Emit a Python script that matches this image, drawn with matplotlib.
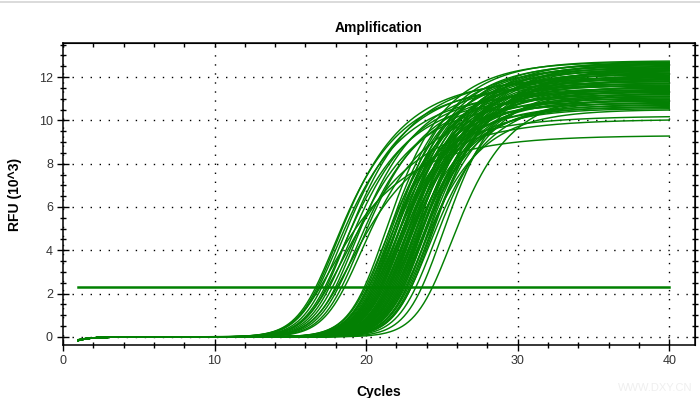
import numpy as np
import matplotlib
matplotlib.use('Agg')
import matplotlib.pyplot as plt
from matplotlib.lines import Line2D
from matplotlib.ticker import MultipleLocator

plt.rcParams['font.family'] = ['Liberation Sans', 'DejaVu Sans']

# data
threshold = 2.33  # RFU x10^3

# early wells: threshold-crossing cycle and plateau
early_ct = [16.7, 16.8, 16.9, 17.1, 17.3, 17.4, 17.6, 17.8, 18.0, 18.2, 18.4, 18.6]
early_plateau = [11.6, 11.9, 11.3, 11.7, 11.1, 12.0, 11.4, 10.9, 11.8, 11.2, 11.5, 10.8]
early_rate = 0.30

# early wells that flatten low
low_ct = [17.0, 17.5, 18.1]
low_plateau = [9.3, 10.2, 10.05]
low_rate = 0.25

# main bundle
main_ct = [19.9, 20.0, 20.1, 20.2, 20.2, 20.3, 20.4, 20.4, 20.5, 20.5,
           20.6, 20.6, 20.7, 20.7, 20.8, 20.8, 20.9, 20.9, 21.0, 21.0,
           21.0, 21.1, 21.1, 21.2, 21.2, 21.3, 21.3, 21.4, 21.4, 21.5,
           21.5, 21.5, 21.6, 21.6, 21.7, 21.7, 21.8, 21.8, 21.9, 21.9,
           22.0, 22.0, 22.1, 22.1, 22.2, 22.2, 22.3, 22.3, 22.4, 22.4,
           22.5, 22.5, 22.6, 22.7, 22.7, 22.8, 22.9, 23.0, 23.0, 23.3,
           23.7, 24.4]
main_plateau = [12.7, 11.2, 12.4, 10.8, 12.1, 11.6, 12.75, 11.0, 12.3, 11.9,
                10.6, 12.6, 11.4, 12.0, 10.9, 12.5, 11.7, 11.1, 12.2, 10.7,
                12.65, 11.5, 12.35, 11.3, 10.55, 12.15, 11.8, 12.55, 11.05, 12.45,
                10.95, 11.65, 12.25, 11.35, 12.7, 10.65, 11.95, 12.05, 11.45, 12.6,
                10.75, 11.85, 12.4, 11.15, 12.3, 11.55, 10.85, 12.5, 11.25, 12.0,
                11.75, 12.2, 10.5, 11.9, 12.65, 11.4, 12.1, 11.0, 12.35, 11.6,
                12.45, 11.3]
main_rate = 0.35

start_dip = -0.15  # value at cycle 1

cycles = np.arange(1, 40.001, 0.1)


def amp_curve(ct, plateau, rate, k=0.95):
    # exponential start, saturating top, placed so it crosses threshold at ct
    u_t = -np.log(1 - threshold / plateau) / rate
    x0 = ct - np.log(np.expm1(k * u_t)) / k
    u = np.logaddexp(0, k * (cycles - x0)) / k
    y = plateau * (1 - np.exp(-rate * u))
    y += start_dip * plateau / 11.5 * np.exp(-(cycles - 1) / 0.8)
    return y


fig = plt.figure(figsize=(7, 3.98), dpi=100)
ax = fig.add_axes([63 / 700, 1 - 345 / 398, 632 / 700, 302 / 398])

green = '#038003'
for ct, pl in zip(main_ct, main_plateau):
    ax.plot(cycles, amp_curve(ct, pl, main_rate), color=green, lw=1.05)
for ct, pl in zip(early_ct, early_plateau):
    ax.plot(cycles, amp_curve(ct, pl, early_rate), color=green, lw=1.05)
for ct, pl in zip(low_ct, low_plateau):
    ax.plot(cycles, amp_curve(ct, pl, low_rate), color=green, lw=1.05)

ax.plot([1, 40], [threshold, threshold], color='#008000', lw=1.8)

ax.set_xlim(0, 41.7)
ax.set_ylim(-0.37, 13.57)
ax.xaxis.set_major_locator(MultipleLocator(10))
ax.xaxis.set_minor_locator(MultipleLocator(2))
ax.yaxis.set_major_locator(MultipleLocator(2))
ax.yaxis.set_minor_locator(MultipleLocator(0.5))
ax.grid(True, which='major', color='black', ls=(0, (1, 5.5)), lw=1.0)
for s in ax.spines.values():
    s.set_linewidth(1.1)
ax.tick_params(which='major', direction='inout', length=8.5, width=1.0,
               labelsize=9, colors='black', labelcolor='#333333', pad=3)
ax.tick_params(which='minor', direction='inout', length=4.5, width=1.0)

sx = ax.secondary_xaxis('top')
sx.xaxis.set_major_locator(MultipleLocator(10))
sx.xaxis.set_minor_locator(MultipleLocator(2))
sx.tick_params(which='both', direction='in', length=3, width=1.0, labeltop=False)
sy = ax.secondary_yaxis('right')
sy.yaxis.set_major_locator(MultipleLocator(2))
sy.yaxis.set_minor_locator(MultipleLocator(0.5))
sy.tick_params(which='both', direction='inout', length=4, width=1.0, labelright=False)

ax.set_title('Amplification', fontsize=10, fontweight='bold', pad=8)
ax.set_xlabel('Cycles', fontsize=10, fontweight='bold', labelpad=13)
ax.set_ylabel('RFU (10^3)', fontsize=10, fontweight='bold', labelpad=12)

fig.add_artist(Line2D([0, 1], [1 - 1.5 / 398, 1 - 1.5 / 398], color='#d4d4d4', lw=1.2))
fig.text(655 / 700, 1 - 388 / 398, 'WWW.DXY.CN', fontsize=8, color='#efefef',
         ha='center', va='center')

fig.savefig('out.png', dpi=100)
